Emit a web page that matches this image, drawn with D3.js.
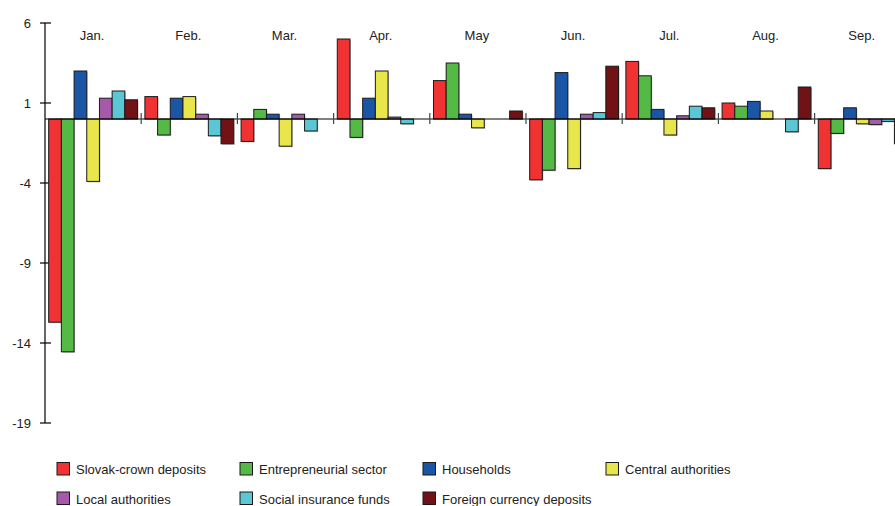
<!DOCTYPE html>
<html>
<head>
<meta charset="utf-8">
<script src="https://cdn.jsdelivr.net/npm/d3@7"></script>
<style>
  body { margin: 0; background: #fff; }
  svg { font-family: "Liberation Sans", Arial, sans-serif; }
</style>
</head>
<body>
<svg id="chart" width="895" height="506"></svg>
<script>
// month-on-month changes in deposits, by sector
const months = ["Jan.", "Feb.", "Mar.", "Apr.", "May", "Jun.", "Jul.", "Aug.", "Sep."];
const seriesNames = ["Slovak-crown deposits", "Entrepreneurial sector", "Households",
  "Central authorities", "Local authorities", "Social insurance funds", "Foreign currency deposits"];
const seriesColors = ["#f03232", "#55b946", "#1a55a6", "#e8e64a", "#a45aa8", "#5bc6d4", "#701216"];

const slovakCrown   = [-12.7, 1.4, -1.4, 5.0, 2.4, -3.8, 3.6, 1.0, -3.1];
const entrepreneur  = [-14.55, -1.0, 0.6, -1.15, 3.5, -3.2, 2.7, 0.8, -0.9];
const households    = [3.0, 1.3, 0.3, 1.3, 0.3, 2.9, 0.6, 1.1, 0.7];
const centralAuth   = [-3.9, 1.4, -1.7, 3.0, -0.55, -3.1, -1.0, 0.5, -0.3];
const localAuth     = [1.3, 0.3, 0.3, 0.12, 0, 0.3, 0.2, 0, -0.35];
const socialIns     = [1.75, -1.05, -0.75, -0.3, 0, 0.4, 0.8, -0.8, -0.15];
const foreignCurr   = [1.2, -1.55, 0, 0, 0.5, 3.3, 0.7, 2.0, -1.55];

const yTicks = [6, 1, -4, -9, -14, -19];

const allSeries = [slovakCrown, entrepreneur, households, centralAuth, localAuth, socialIns, foreignCurr];

const svg = d3.select("#chart");

const x0 = d3.scaleBand().domain(months).range([45, 45 + 9 * 96.2]).padding(0);
const x1 = d3.scaleBand().domain(d3.range(seriesNames.length))
  .range([0, x0.bandwidth()]).paddingInner(0).paddingOuter(0.29);
const y = d3.scaleLinear().domain([-19, 6]).range([423, 23]);

// y axis
svg.append("line")
  .attr("x1", 45).attr("x2", 45)
  .attr("y1", y(6)).attr("y2", y(-19))
  .attr("stroke", "#000").attr("stroke-width", 1.2);
svg.selectAll(".ytick").data(yTicks).enter().append("line")
  .attr("x1", 40).attr("x2", 51)
  .attr("y1", d => y(d)).attr("y2", d => y(d))
  .attr("stroke", "#000").attr("stroke-width", 1.2);
svg.selectAll(".ylab").data(yTicks).enter().append("text")
  .attr("x", 31).attr("y", d => y(d)).attr("dy", "0.35em")
  .attr("text-anchor", "end")
  .style("font-size", "13px").style("fill", "#222")
  .text(d => d);

// month labels
svg.selectAll(".mlab").data(months).enter().append("text")
  .attr("x", d => x0(d) + x0.bandwidth() / 2 - 1).attr("y", 35).attr("dy", "0.35em")
  .attr("text-anchor", "middle")
  .style("font-size", "13px").style("fill", "#222")
  .text(d => d);

// bars
const groups = svg.selectAll(".grp").data(months).enter().append("g")
  .attr("transform", d => "translate(" + x0(d) + ",0)");

groups.each(function(m, mi){
  const g = d3.select(this);
  allSeries.forEach(function(vals, si){
    const v = vals[mi];
    if (v === 0) return;
    const top = y(Math.max(v, 0)), h = Math.abs(y(v) - y(0));
    g.append("rect")
      .attr("x", x1(si) + 1).attr("y", top + 1)
      .attr("width", x1.bandwidth()).attr("height", h)
      .attr("fill", "#aaa").attr("opacity", 0.7);
    g.append("rect")
      .attr("x", x1(si)).attr("y", top)
      .attr("width", x1.bandwidth()).attr("height", h)
      .attr("fill", seriesColors[si])
      .attr("stroke", "#1a1a1a").attr("stroke-width", 1);
  });
});

// zero line and month separators
svg.append("line")
  .attr("x1", 45).attr("x2", 895)
  .attr("y1", y(0)).attr("y2", y(0))
  .attr("stroke", "#000").attr("stroke-width", 1);
svg.selectAll(".sep").data(months.slice(1)).enter().append("line")
  .attr("x1", d => x0(d)).attr("x2", d => x0(d))
  .attr("y1", y(0) - 6).attr("y2", y(0) + 5)
  .attr("stroke", "#444").attr("stroke-width", 1.2);

// legend
const legend = svg.append("g");
seriesNames.forEach(function(name, i){
  const col = i % 4, row = Math.floor(i / 4);
  const lx = 57 + col * 183, ly = 462.5 + row * 29.5;
  legend.append("rect")
    .attr("x", lx).attr("y", ly).attr("width", 12.5).attr("height", 12.5)
    .attr("fill", seriesColors[i]).attr("stroke", "#1a1a1a").attr("stroke-width", 1);
  legend.append("text")
    .attr("x", lx + 19).attr("y", ly + 7).attr("dy", "0.35em")
    .style("font-size", "13px").style("fill", "#222")
    .text(name);
});
</script>
</body>
</html>
